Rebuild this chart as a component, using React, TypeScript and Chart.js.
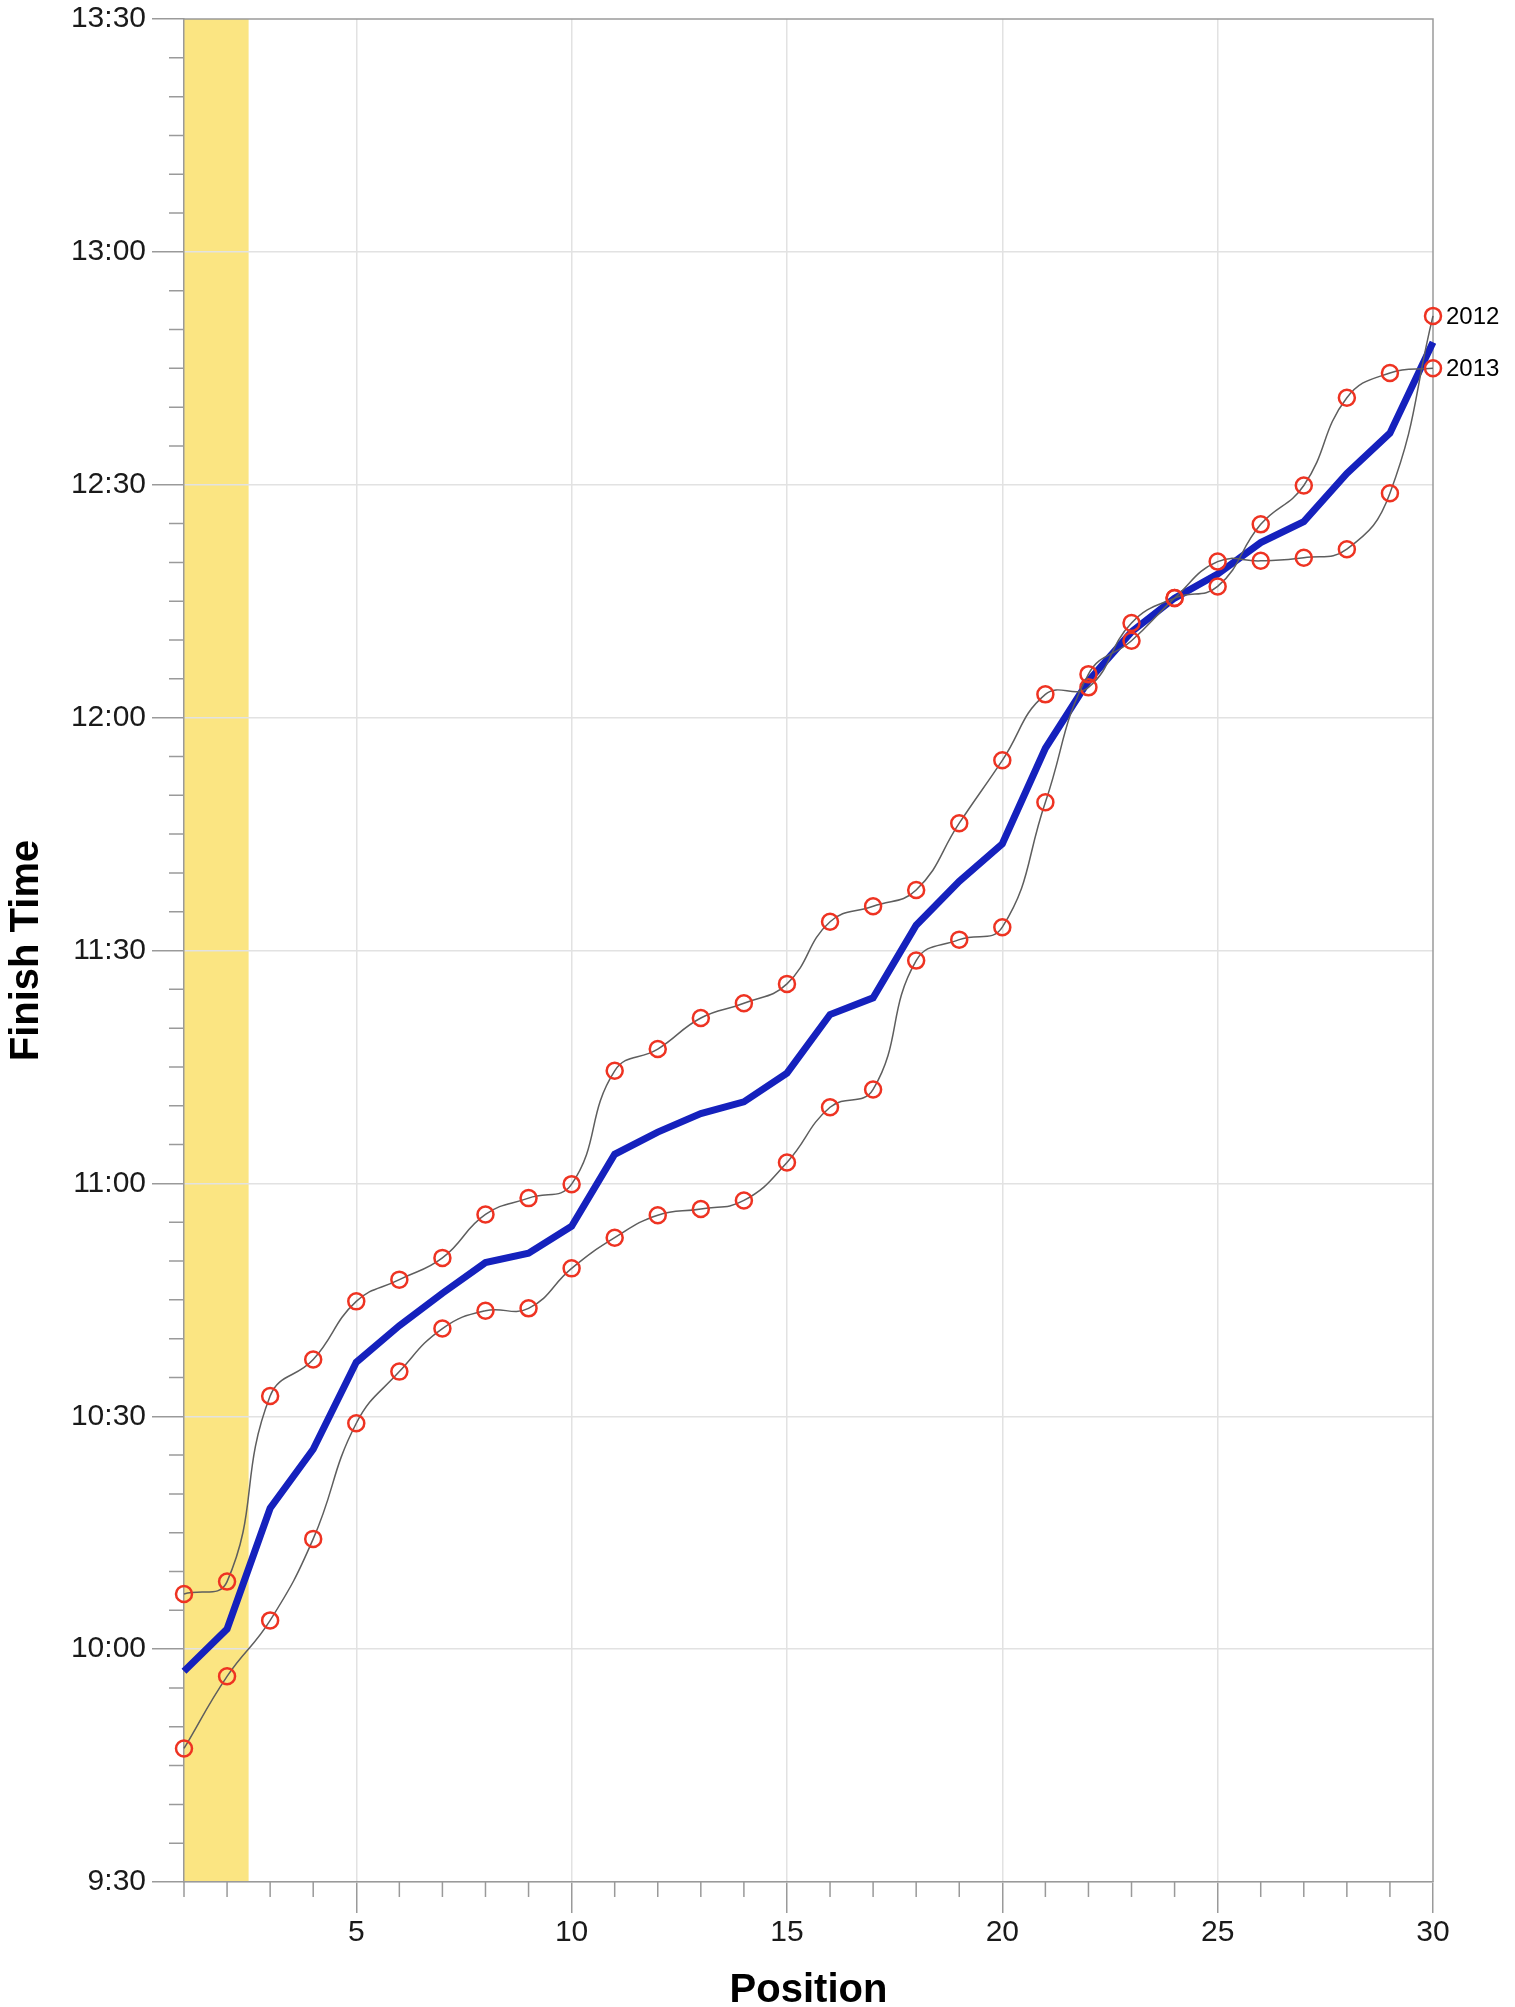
import React, { useEffect, useRef } from "react";
import { Chart, registerables } from "chart.js";

Chart.register(...registerables);

// ---- data ----
const positions = [1, 2, 3, 4, 5, 6, 7, 8, 9, 10, 11, 12, 13, 14, 15, 16, 17, 18, 19, 20, 21, 22, 23, 24, 25, 26, 27, 28, 29, 30];

const times2013 = [
  "10:07:06", "10:08:42", "10:32:36", "10:37:18", "10:44:48", "10:47:36", "10:50:24", "10:56:00", "10:58:06", "10:59:54",
  "11:14:30", "11:17:18", "11:21:18", "11:23:12", "11:25:42", "11:33:42", "11:35:42", "11:37:48", "11:46:24", "11:54:30",
  "12:03:00", "12:03:54", "12:12:12", "12:15:24", "12:16:54", "12:24:54", "12:29:54", "12:41:12", "12:44:24", "12:45:00",
];

const times2012 = [
  "9:47:12", "9:56:30", "10:03:42", "10:14:12", "10:29:06", "10:35:45", "10:41:18", "10:43:36", "10:43:54", "10:49:03",
  "10:53:00", "10:55:54", "10:56:42", "10:57:48", "11:02:42", "11:09:48", "11:12:06", "11:28:42", "11:31:24", "11:33:00",
  "11:49:06", "12:05:36", "12:09:54", "12:15:24", "12:20:06", "12:20:12", "12:20:36", "12:21:42", "12:28:54", "12:51:45",
];

const timesAverage = [
  "9:57:09", "10:02:36", "10:18:09", "10:25:45", "10:36:57", "10:41:40", "10:45:51", "10:49:48", "10:51:00", "10:54:28",
  "11:03:45", "11:06:36", "11:09:00", "11:10:30", "11:14:12", "11:21:45", "11:23:54", "11:33:15", "11:38:54", "11:43:45",
  "11:56:03", "12:04:45", "12:11:03", "12:15:24", "12:18:30", "12:22:33", "12:25:15", "12:31:27", "12:36:39", "12:48:22",
];

const yTickLabels = ["9:30", "10:00", "10:30", "11:00", "11:30", "12:00", "12:30", "13:00", "13:30"];
const xTickValues = [5, 10, 15, 20, 25, 30];
const seriesNames = ["2012", "2013"];
const highlightBand = [1, 2.5];
const yMinorStepMinutes = 5;
const xMinorStep = 1;

const xTitle = "Position";
const yTitle = "Finish Time";

// ---- helpers ----
function toMinutes(s: string): number {
  const parts = s.split(":").map(Number);
  const h = parts[0];
  const m = parts[1] || 0;
  const sec = parts[2] || 0;
  return h * 60 + m + sec / 60;
}

function fmtTime(v: number): string {
  const h = Math.floor(v / 60);
  const m = Math.round(v - h * 60);
  return `${h}:${m < 10 ? "0" + m : m}`;
}

const yTickValues = yTickLabels.map(toMinutes);
const yMin = yTickValues[0];
const yMax = yTickValues[yTickValues.length - 1];

const AXIS_GREY = "#9a9a9a";
const GRID_GREY = "#e2e2e2";
const FONT = "'Liberation Sans', Arial, Helvetica, sans-serif";

const bandPlugin = {
  id: "band",
  beforeDraw(chart: any) {
    const { ctx, chartArea, scales } = chart;
    const x0 = scales.x.getPixelForValue(highlightBand[0]);
    const x1 = scales.x.getPixelForValue(highlightBand[1]);
    ctx.save();
    ctx.fillStyle = "#fbe582";
    ctx.fillRect(x0, chartArea.top, x1 - x0, chartArea.bottom - chartArea.top);
    ctx.restore();
  },
  beforeDatasetsDraw(chart: any) {
    const { ctx, chartArea } = chart;
    ctx.save();
    ctx.strokeStyle = AXIS_GREY;
    ctx.lineWidth = 1.5;
    ctx.beginPath();
    ctx.moveTo(chartArea.left, chartArea.top);
    ctx.lineTo(chartArea.right, chartArea.top);
    ctx.lineTo(chartArea.right, chartArea.bottom);
    ctx.stroke();
    ctx.restore();
  },
  afterDraw(chart: any) {
    const { ctx, chartArea, scales } = chart;
    const xs = scales.x;
    const ys = scales.y;
    ctx.save();
    ctx.strokeStyle = AXIS_GREY;
    ctx.lineWidth = 1.5;
    ctx.beginPath();
    for (let v = yMin; v <= yMax + 1e-6; v += yMinorStepMinutes) {
      if (yTickValues.some((t) => Math.abs(t - v) < 1e-6)) continue;
      const py = ys.getPixelForValue(v);
      ctx.moveTo(chartArea.left - 15, py);
      ctx.lineTo(chartArea.left, py);
    }
    for (let v = positions[0]; v <= positions[positions.length - 1]; v += xMinorStep) {
      if (xTickValues.includes(v)) continue;
      const px = xs.getPixelForValue(v);
      ctx.moveTo(px, chartArea.bottom);
      ctx.lineTo(px, chartArea.bottom + 15);
    }
    ctx.stroke();

    // end labels
    ctx.fillStyle = "#000";
    ctx.font = `24px ${FONT}`;
    ctx.textBaseline = "middle";
    ctx.textAlign = "left";
    const last = positions.length - 1;
    const ends = [times2012[last], times2013[last]];
    ends.forEach((t, i) => {
      const px = xs.getPixelForValue(positions[last]);
      const py = ys.getPixelForValue(toMinutes(t));
      ctx.fillText(seriesNames[i], px + 13, py + 1);
    });
    ctx.restore();
  },
};

export default function App() {
  const canvasRef = useRef<HTMLCanvasElement | null>(null);

  useEffect(() => {
    if (!canvasRef.current) return;
    const mk = (arr: string[]) => positions.map((p, i) => ({ x: p, y: toMinutes(arr[i]) }));

    const greyLine = {
      borderColor: "#5e5e5e",
      borderWidth: 1.5,
      tension: 0.45,
      pointRadius: 8,
      pointBorderWidth: 2.5,
      pointBorderColor: "#ee3322",
      pointBackgroundColor: "rgba(0,0,0,0)",
      fill: false,
      clip: false,
    };

    const chart = new Chart(canvasRef.current, {
      type: "line",
      data: {
        datasets: [
          { label: seriesNames[0], data: mk(times2012), ...greyLine },
          { label: seriesNames[1], data: mk(times2013), ...greyLine },
          {
            label: "Average",
            data: mk(timesAverage),
            borderColor: "#1521bd",
            borderWidth: 7,
            tension: 0,
            pointRadius: 0,
            fill: false,
            clip: false,
          },
        ],
      },
      options: {
        animation: false,
        responsive: true,
        maintainAspectRatio: false,
        layout: { padding: { top: 19, right: 82, left: 0, bottom: 0 } },
        plugins: {
          legend: { display: false },
          tooltip: { enabled: false },
        },
        scales: {
          x: {
            type: "linear",
            min: positions[0],
            max: positions[positions.length - 1],
            afterBuildTicks: (scale: any) => {
              scale.ticks = xTickValues.map((value) => ({ value }));
            },
            afterFit: (scale: any) => {
              scale.height = 125;
              scale.paddingLeft = 0;
              scale.paddingRight = 0;
            },
            ticks: {
              autoSkip: false,
              maxRotation: 0,
              minRotation: 0,
              padding: 2,
              color: "#1a1a1a",
              font: { family: FONT, size: 30 },
              callback: (v: any) => String(v),
            },
            grid: {
              color: (ctx: any) => (ctx.tick && ctx.tick.value === positions[positions.length - 1] ? "rgba(0,0,0,0)" : GRID_GREY),
              lineWidth: 1.5,
              tickLength: 31,
              tickColor: AXIS_GREY,
              tickWidth: 1.5,
            },
            border: { color: AXIS_GREY, width: 1.5 },
            title: {
              display: true,
              text: xTitle,
              color: "#000",
              font: { family: FONT, size: 40, weight: "bold", lineHeight: 1 },
              padding: { top: 0, bottom: -4 },
            },
          },
          y: {
            type: "linear",
            min: yMin,
            max: yMax,
            afterBuildTicks: (scale: any) => {
              scale.ticks = yTickValues.map((value) => ({ value }));
            },
            afterFit: (scale: any) => {
              scale.width = 184;
              scale.paddingTop = 0;
              scale.paddingBottom = 0;
            },
            ticks: {
              autoSkip: false,
              padding: 6,
              color: "#1a1a1a",
              font: { family: FONT, size: 30 },
              callback: (v: any) => fmtTime(Number(v)),
            },
            grid: {
              color: (ctx: any) => (ctx.tick && ctx.tick.value === yMax ? "rgba(0,0,0,0)" : GRID_GREY),
              lineWidth: 1.5,
              tickLength: 32,
              tickColor: AXIS_GREY,
              tickWidth: 1.5,
            },
            border: { color: AXIS_GREY, width: 1.5 },
            title: {
              display: true,
              text: yTitle,
              color: "#000",
              font: { family: FONT, size: 40, weight: "bold", lineHeight: 1 },
              padding: { top: 7, bottom: 0 },
            },
          },
        },
      },
      plugins: [bandPlugin],
    } as any);

    return () => chart.destroy();
  }, []);

  return (
    <div style={{ position: "fixed", left: 0, top: 0, width: 1515, height: 2007, background: "#fff" }}>
      <canvas ref={canvasRef} />
    </div>
  );
}
